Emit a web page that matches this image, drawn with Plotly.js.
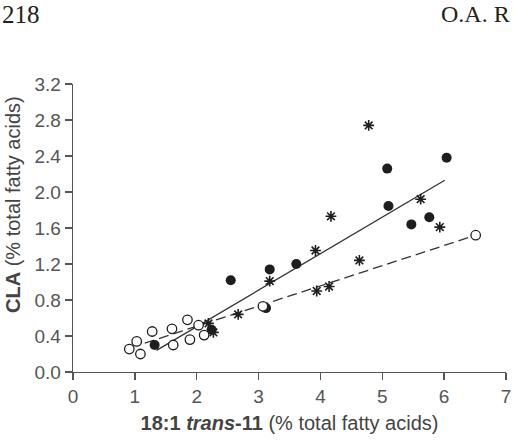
<!DOCTYPE html>
<html>
<head>
<meta charset="utf-8">
<script src="https://cdn.plot.ly/plotly-3.0.1.min.js"></script>
<style>html,body{margin:0;padding:0;background:#fff;}#chart{width:513px;height:440px;}</style>
</head>
<body>
<div id="chart"></div>
<script>
// Filled circles
var filledX = [1.32, 2.24, 2.55, 3.12, 3.18, 3.61, 5.08, 5.10, 5.47, 5.76, 6.04];
var filledY = [0.30, 0.47, 1.02, 0.71, 1.14, 1.20, 2.26, 1.845, 1.64, 1.72, 2.38];
// Asterisks
var starX = [2.19, 2.27, 2.67, 3.18, 3.92, 3.94, 4.14, 4.17, 4.63, 4.78, 5.62, 5.93];
var starY = [0.54, 0.44, 0.64, 1.01, 1.35, 0.90, 0.95, 1.73, 1.24, 2.74, 1.92, 1.61];
// Open circles
var openX = [0.91, 1.03, 1.09, 1.28, 1.60, 1.62, 1.85, 1.89, 2.03, 2.12, 3.07, 6.51];
var openY = [0.255, 0.34, 0.20, 0.45, 0.48, 0.30, 0.58, 0.36, 0.52, 0.41, 0.73, 1.52];
// Regression lines (end points)
var solidX = [1.35, 6.01];
var solidY = [0.24, 2.13];
var dashX = [1.16, 6.51];
var dashY = [0.32, 1.52];
// Axis ticks
var xTicks = [0, 1, 2, 3, 4, 5, 6, 7];
var yTicks = [0.0, 0.4, 0.8, 1.2, 1.6, 2.0, 2.4, 2.8, 3.2];
var yTickText = ["0.0", "0.4", "0.8", "1.2", "1.6", "2.0", "2.4", "2.8", "3.2"];

var ink = "#1e1e1e";
var traces = [
  {x: solidX, y: solidY, mode: "lines", line: {color: "#333", width: 1.3}, hoverinfo: "skip"},
  {x: dashX, y: dashY, mode: "lines", line: {color: "#333", width: 1.3, dash: "10px,5px"}, hoverinfo: "skip"},
  {x: filledX, y: filledY, mode: "markers", marker: {symbol: "circle", size: 10, color: ink, line: {color: ink, width: 0}}},
  {x: starX, y: starY, mode: "markers", marker: {symbol: "asterisk-open", size: 9, color: ink, line: {color: ink, width: 1.6}}},
  {x: openX, y: openY, mode: "markers", marker: {symbol: "circle", size: 9.5, color: "#fff", line: {color: ink, width: 1.3}}}
];

var sans = "Liberation Sans, Arial, sans-serif";
var axisCommon = {
  showgrid: false, zeroline: false, showline: true, linecolor: "#555", linewidth: 1.3,
  ticks: "outside", ticklen: 7, tickwidth: 1.3, tickcolor: "#555",
  tickfont: {family: sans, size: 19, color: "#555"}
};

var layout = {
  width: 513, height: 440,
  margin: {l: 73, r: 7, t: 84, b: 68},
  paper_bgcolor: "#fff", plot_bgcolor: "#fff",
  showlegend: false,
  xaxis: Object.assign({}, axisCommon, {
    range: [0, 7], tickvals: xTicks, ticktext: xTicks.map(String),
    title: {text: "<b>18:1 <i>trans</i>-11</b> (% total fatty acids)", standoff: 10,
      font: {family: sans, size: 20, color: "#444"}}
  }),
  yaxis: Object.assign({}, axisCommon, {
    range: [0, 3.2], tickvals: yTicks, ticktext: yTickText
  }),
  annotations: [
    {text: "<b>CLA</b> (% total fatty acids)", textangle: -90, xref: "paper", yref: "paper",
      x: -60/433, y: (372-205)/288, xanchor: "center", yanchor: "middle", showarrow: false,
      font: {family: sans, size: 20, color: "#444"}},
    {text: "218", xref: "paper", yref: "paper", x: -73/433, y: (440-68-14)/288 , xanchor: "left", yanchor: "middle",
      showarrow: false, font: {family: "Liberation Serif, Times New Roman, serif", size: 25, color: "#222"}},
    {text: "O.A. R", xref: "paper", yref: "paper", x: (512-73)/433, y: (440-68-14)/288, xanchor: "right", yanchor: "middle",
      showarrow: false, font: {family: "Liberation Serif, Times New Roman, serif", size: 24, color: "#222"}}
  ]
};

Plotly.newPlot("chart", traces, layout, {staticPlot: true});
</script>
</body>
</html>
